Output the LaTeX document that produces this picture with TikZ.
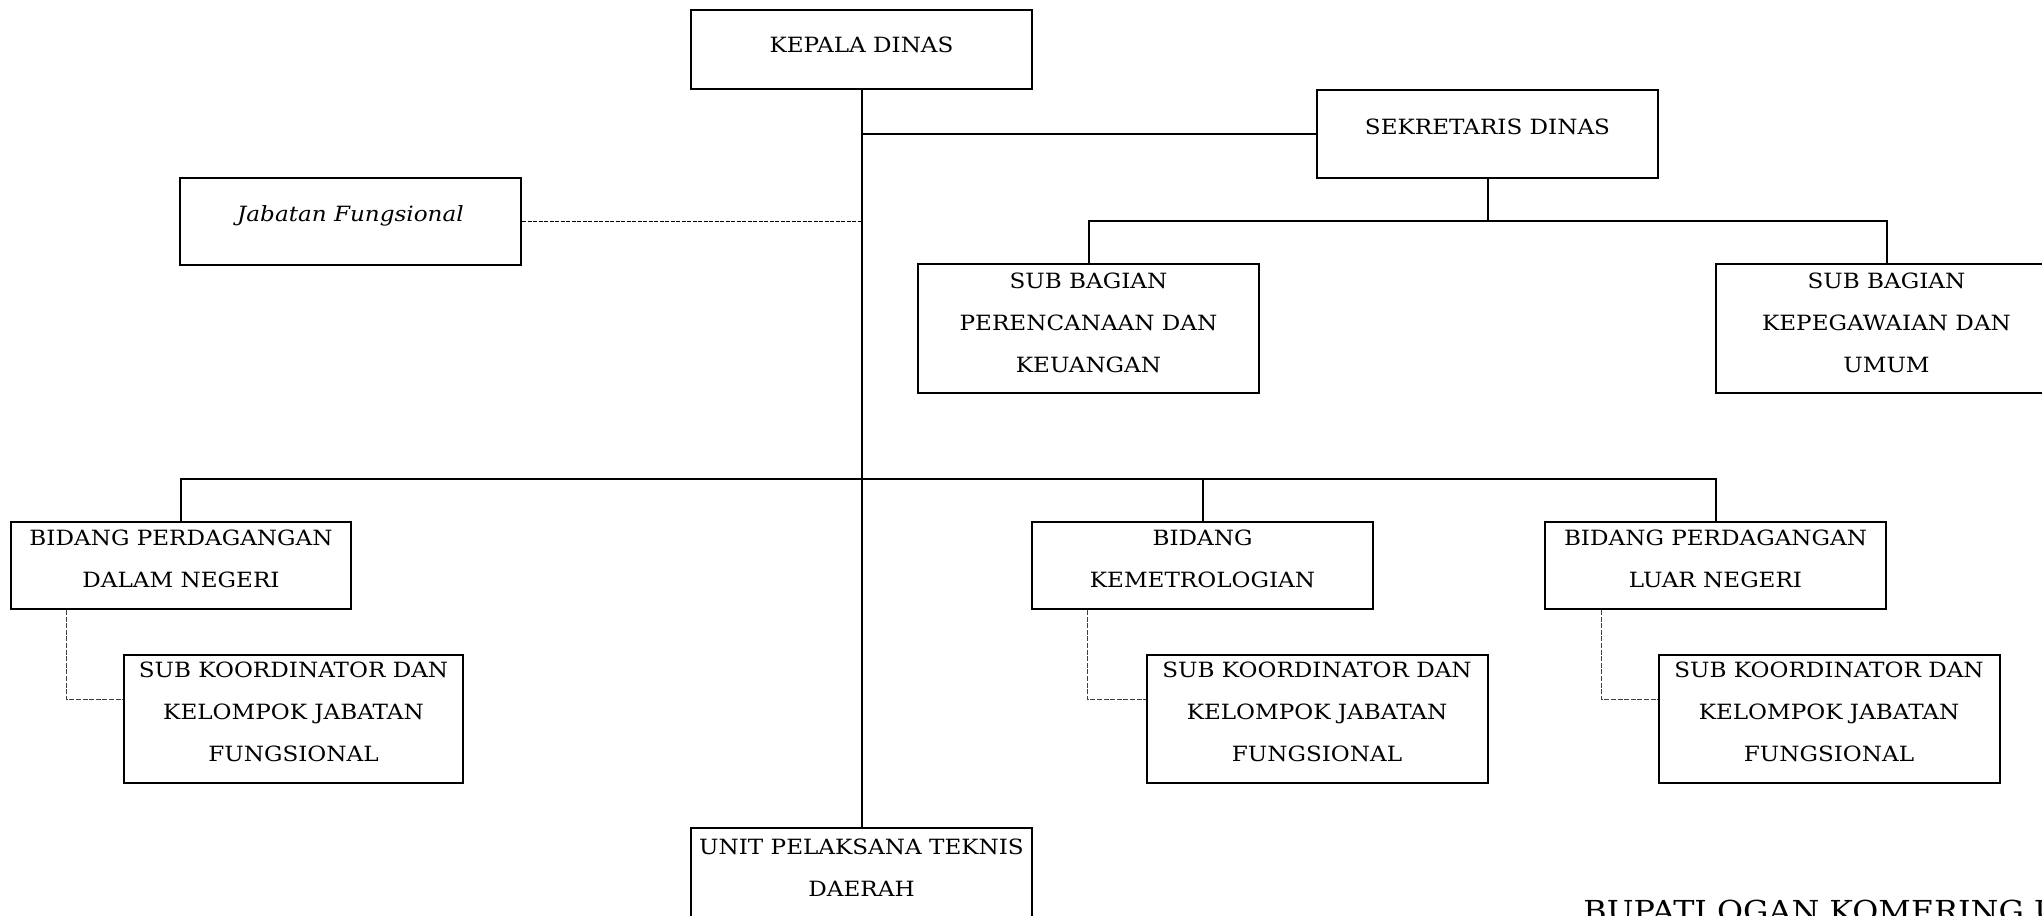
\documentclass[tikz,border=0pt]{standalone}
\usepackage{fontspec}
\setmainfont{DejaVu Serif}[FakeStretch=1.1]
\usetikzlibrary{calc}
\begin{document}
\begin{tikzpicture}[x=0.5pt,y=-0.5pt,
  orgbox/.style={draw=black, line width=1pt, rectangle, inner sep=0pt, minimum width=170.5pt},
  txt/.style={inner sep=0pt, align=center, font=\fontsize{10.5}{21}\selectfont, anchor=north},
  conn/.style={line width=1pt},
  dashA/.style={line width=0.75pt, dash pattern=on 2pt off 0.75pt},
  dashB/.style={line width=0.5pt, black!75, dash pattern=on 2.5pt off 0.8pt}]

\fill[white] (0,0) rectangle (2042,916);
\useasboundingbox (0,0) rectangle (2042,916);

% boxes
\node[orgbox, minimum height=39.5pt] (kd) at (861.5,49.5) {};
\node[orgbox, minimum height=44pt] (sek) at (1487.5,134) {};
\node[orgbox, minimum height=43.5pt] (jab) at (350.5,221.5) {};
\node[orgbox, minimum height=64.5pt] (sbp) at (1088.5,328.5) {};
\node[orgbox, minimum height=64.5pt] (sbk) at (1886.5,328.5) {};
\node[orgbox, minimum width=170pt, minimum height=43.5pt] (bdn) at (181,565.5) {};
\node[orgbox, minimum height=43.5pt] (bkm) at (1202.5,565.5) {};
\node[orgbox, minimum height=43.5pt] (bln) at (1715.5,565.5) {};
\node[orgbox, minimum width=169.5pt, minimum height=64pt] (skl) at (293.5,719) {};
\node[orgbox, minimum height=64pt] (skm) at (1317,719) {};
\node[orgbox, minimum height=64pt] (skr) at (1829,719) {};
\node[orgbox, minimum height=64.5pt] (upt) at (861.5,892.5) {};

% texts
\node[txt] (kdt) at ($(kd.north)+(0,28)$) {KEPALA DINAS};
\node[txt] (sekt) at ($(sek.north)+(0,30)$) {SEKRETARIS DINAS};
\node[txt] (jabt) at ($(jab.north)+(0,28)$) {\itshape Jabatan Fungsional};
\node[txt] (sbpt) at ($(sbp.north)+(0,10)$) {SUB BAGIAN\\PERENCANAAN DAN\\KEUANGAN};
\node[txt] (sbkt) at ($(sbk.north)+(0,10)$) {SUB BAGIAN\\KEPEGAWAIAN DAN\\UMUM};
\node[txt] (bdnt) at ($(bdn.north)+(0,9)$) {BIDANG PERDAGANGAN\\DALAM NEGERI};
\node[txt] (bkmt) at ($(bkm.north)+(0,9)$) {BIDANG\\KEMETROLOGIAN};
\node[txt] (blnt) at ($(bln.north)+(0,9)$) {BIDANG PERDAGANGAN\\LUAR NEGERI};
\node[txt] (sklt) at ($(skl.north)+(0,8)$) {SUB KOORDINATOR DAN\\KELOMPOK JABATAN\\FUNGSIONAL};
\node[txt] (skmt) at ($(skm.north)+(0,8)$) {SUB KOORDINATOR DAN\\KELOMPOK JABATAN\\FUNGSIONAL};
\node[txt] (skrt) at ($(skr.north)+(0,8)$) {SUB KOORDINATOR DAN\\KELOMPOK JABATAN\\FUNGSIONAL};
\node[txt] (uptt) at ($(upt.north)+(0,12)$) {UNIT PELAKSANA TEKNIS\\DAERAH};
\node[inner sep=0pt, anchor=north west, font=\fontsize{14.45}{17}\selectfont] (bup) at (1583,900) {BUPATI OGAN KOMERING ULU};

% connectors
\draw[conn] (kd.south) -- (upt.north);
\draw[conn] (sek.west) -- (sek.west -| kd.south);
\draw[dashA] (jab.east) -- (jab.east -| kd.south);
\coordinate (b1) at (1487.5,221);
\draw[conn] (sek.south) -- (b1);
\draw[conn] (sbp.north) |- (b1) -| (sbk.north);
\coordinate (b2) at (861.5,479);
\draw[conn] (bdn.north) |- (b2) -| (bln.north);
\draw[conn] (bkm.north) -- (bkm.north |- b2);
\draw[dashB] ($(bdn.south west)+(56,0)$) |- ($(skl.north west)+(0,45)$);
\draw[dashB] ($(bkm.south west)+(56,0)$) |- ($(skm.north west)+(0,45)$);
\draw[dashB] ($(bln.south west)+(57,0)$) |- ($(skr.north west)+(0,45)$);
\end{tikzpicture}
\end{document}
